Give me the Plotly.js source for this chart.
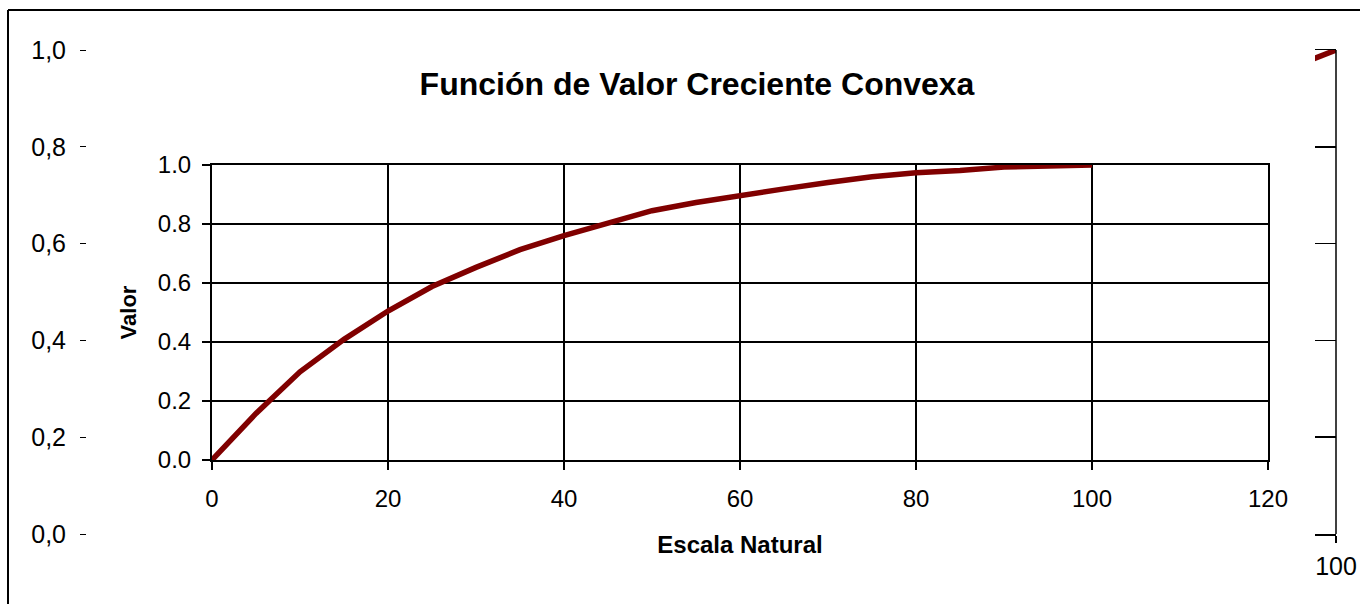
<!DOCTYPE html>
<html>
<head>
<meta charset="utf-8">
<script src="https://cdn.plot.ly/plotly-3.0.1.min.js"></script>
<style>html,body{margin:0;padding:0;background:#fff;}#chart{width:1360px;height:604px;}</style>
</head>
<body>
<div id="chart"></div>
<script>
// Inner chart: Función de Valor Creciente Convexa
const escalaNatural = [0, 5, 10, 15, 20, 25, 30, 35, 40, 45, 50, 55, 60, 65, 70, 75, 80, 85, 90, 95, 100];
const valor = [0.0, 0.158, 0.299, 0.409, 0.505, 0.588, 0.653, 0.713, 0.761, 0.804, 0.845, 0.873, 0.898, 0.919, 0.941, 0.960, 0.974, 0.981, 0.993, 0.996, 1.0];
const innerXTicks = [0, 20, 40, 60, 80, 100, 120];
const innerYTicks = [0.0, 0.2, 0.4, 0.6, 0.8, 1.0];

// Outer (background) chart, only partly visible
const outerX = [95, 100];
const outerY = [0.95, 1.0];
const outerYTicks = [0.0, 0.2, 0.4, 0.6, 0.8, 1.0];
const outerYLabels = ['0,0', '0,2', '0,4', '0,6', '0,8', '1,0'];
const outerXTicks = [100];
const outerXLabels = ['100'];

const FONT = 'Liberation Sans, Arial, sans-serif';
const W = 1360, H = 604;
const px = v => v / W;
const py = v => (H - v) / H;

const traces = [
  {
    x: escalaNatural, y: valor, type: 'scatter', mode: 'lines',
    line: {color: '#800000', width: 5.5},
    xaxis: 'x', yaxis: 'y', hoverinfo: 'x+y', showlegend: false
  },
  {
    x: outerX, y: outerY, type: 'scatter', mode: 'lines',
    line: {color: '#800000', width: 5.5},
    xaxis: 'x2', yaxis: 'y2', hoverinfo: 'x+y', showlegend: false
  }
];

const layout = {
  width: W, height: H,
  margin: {l: 0, r: 0, t: 0, b: 0},
  paper_bgcolor: '#ffffff', plot_bgcolor: 'rgba(0,0,0,0)',
  font: {family: FONT, color: '#000', size: 24},
  showlegend: false,
  title: {
    text: 'Función de Valor Creciente Convexa',
    font: {family: FONT, size: 32, weight: 700, color: '#000'},
    xref: 'paper', yref: 'paper', x: px(697), xanchor: 'center', y: py(84), yanchor: 'middle'
  },
  xaxis: {
    domain: [px(212), px(1268)], range: [0, 120], anchor: 'y',
    tickvals: innerXTicks, showgrid: true, gridcolor: '#000', gridwidth: 2,
    showline: true, linecolor: '#000', linewidth: 2, mirror: true,
    ticks: 'outside', ticklen: 8, tickwidth: 2, tickcolor: '#000',
    zeroline: false, tickfont: {size: 24, family: FONT},
    ticklabelstandoff: 8,
    title: {text: 'Escala Natural', font: {size: 24, weight: 700, family: FONT}, standoff: 25}
  },
  yaxis: {
    domain: [py(460), py(165)], range: [0, 1], anchor: 'x',
    tickvals: innerYTicks, tickformat: '.1f', showgrid: true, gridcolor: '#000', gridwidth: 2,
    showline: true, linecolor: '#000', linewidth: 2, mirror: true,
    ticks: 'outside', ticklen: 8, tickwidth: 2, tickcolor: '#000',
    zeroline: false, tickfont: {size: 24, family: FONT},
    ticklabelstandoff: 6,
    title: {text: 'Valor', font: {size: 22, weight: 700, family: FONT}, standoff: 15}
  },
  xaxis2: {
    domain: [px(1315), px(1336)], range: [98.3, 100], anchor: 'y2',
    tickvals: outerXTicks, ticktext: outerXLabels, showgrid: false,
    showline: true, linecolor: '#000', linewidth: 1.5, mirror: true,
    ticks: 'outside', ticklen: 7, tickwidth: 1.5, tickcolor: '#000',
    zeroline: false, tickfont: {size: 25, family: FONT}, ticklabelstandoff: 2
  },
  yaxis2: {
    domain: [py(534), py(50)], range: [0, 1], anchor: 'free', position: px(86),
    tickvals: outerYTicks, ticktext: outerYLabels, showgrid: true, gridcolor: '#000', gridwidth: 1.5,
    showline: false, ticks: 'outside', ticklen: 6, tickwidth: 1, tickcolor: '#000',
    zeroline: false, tickfont: {size: 25, family: FONT}, ticklabelstandoff: 9
  },
  shapes: [
    {type: 'line', xref: 'paper', yref: 'paper', x0: px(8), x1: px(8), y0: 0, y1: py(10), line: {color: '#000', width: 2}},
    {type: 'line', xref: 'paper', yref: 'paper', x0: px(8), x1: 1, y0: py(10), y1: py(10), line: {color: '#000', width: 2}},
    {type: 'line', xref: 'x2 domain', yref: 'y2 domain', x0: 1, x1: 1, y0: 0, y1: 1, line: {color: '#000', width: 1.5}}
  ]
};

Plotly.newPlot('chart', traces, layout, {displayModeBar: false, staticPlot: true});
</script>
</body>
</html>
